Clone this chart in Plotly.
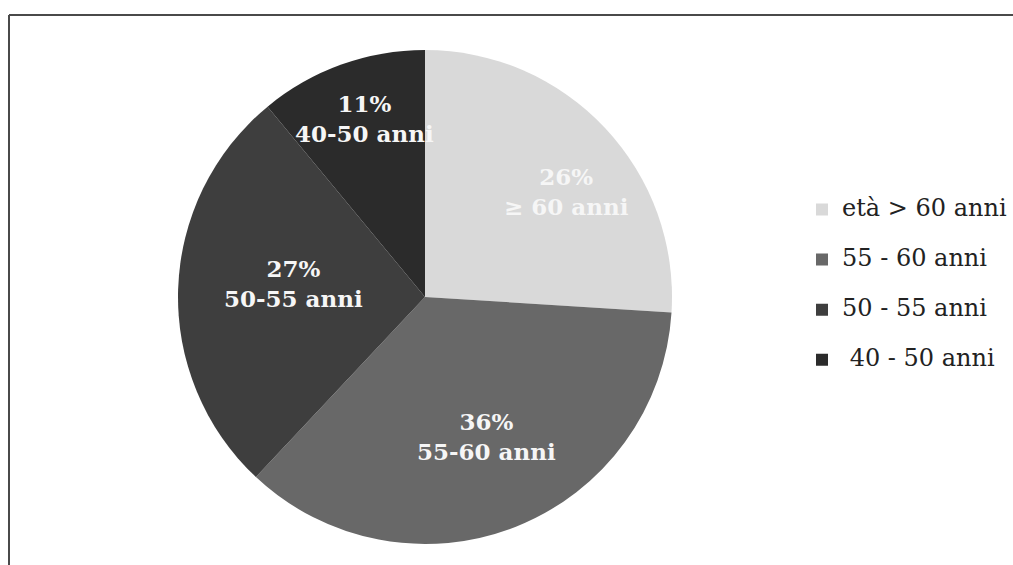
import math
import plotly.graph_objects as go

# Age-band shares
labels = ["età > 60 anni", "55 - 60 anni", "50 - 55 anni", " 40 - 50 anni"]
values = [26, 36, 27, 11]
slice_texts = ["≥ 60 anni", "55-60 anni", "50-55 anni", "40-50 anni"]

colors = ["#d9d9d9", "#686868", "#3e3e3e", "#2b2b2b"]

W, H = 1013, 565
CX, CY, R = 425, 297, 247          # pie centre and radius (px)
LABEL_RADIUS = [0.715, 0.615, 0.537, 0.762]   # label distance as fraction of R
LABEL_SHIFT = [6.7, -2.1, 4.2, 0.9]           # degrees off the slice bisector

FONT = "DejaVu Serif"


def esc(s):
    return s.replace("&", "&amp;").replace("<", "&lt;").replace(">", "&gt;")


legend_names = [
    '<span style="font-size:24px;baseline-shift:8px">' + esc(s).replace(" ", "&nbsp;", 1 if s.startswith(" ") else 0) + "</span>"
    for s in labels
]

fig = go.Figure(
    go.Pie(
        labels=legend_names,
        values=values,
        sort=False,
        direction="clockwise",
        rotation=0,
        marker=dict(colors=colors, line=dict(width=0)),
        textinfo="none",
        hoverinfo="skip",
        domain=dict(x=[(CX - R) / W, (CX + R) / W], y=[1 - (CY + R) / H, 1 - (CY - R) / H]),
    )
)

# Slice labels placed along each slice's bisector
total = sum(values)
start = 0.0
annotations = []
for v, txt, rf, sh in zip(values, slice_texts, LABEL_RADIUS, LABEL_SHIFT):
    mid = math.radians((start + v / 2) / total * 360 + sh)
    px = CX + rf * R * math.sin(mid)
    py = CY - rf * R * math.cos(mid)
    annotations.append(
        dict(
            x=px / W, y=1 - py / H, xref="paper", yref="paper",
            text=f"{v}%<br>{esc(txt)}", showarrow=False,
            font=dict(family=FONT, size=23, color="#f6f6f6", weight="bold"),
            align="center", xanchor="center", yanchor="middle",
        )
    )
    start += v

# Frame (left and top edges)
shapes = [
    dict(type="line", xref="paper", yref="paper", x0=9 / W, x1=9 / W, y0=0, y1=1 - 15 / H,
         line=dict(color="#4a4a4a", width=2)),
    dict(type="line", xref="paper", yref="paper", x0=9 / W, x1=1, y0=1 - 15 / H, y1=1 - 15 / H,
         line=dict(color="#4a4a4a", width=2)),
]

fig.update_layout(
    width=W, height=H,
    margin=dict(l=0, r=0, t=0, b=0),
    paper_bgcolor="white", plot_bgcolor="white",
    showlegend=True,
    legend=dict(
        x=802 / W, xanchor="left", y=1 - 285 / H, yanchor="middle",
        font=dict(family=FONT, size=36.2, color="#222222"),
        bgcolor="rgba(0,0,0,0)", borderwidth=0,
    ),
    annotations=annotations,
    shapes=shapes,
)

fig.write_html("out.html")
